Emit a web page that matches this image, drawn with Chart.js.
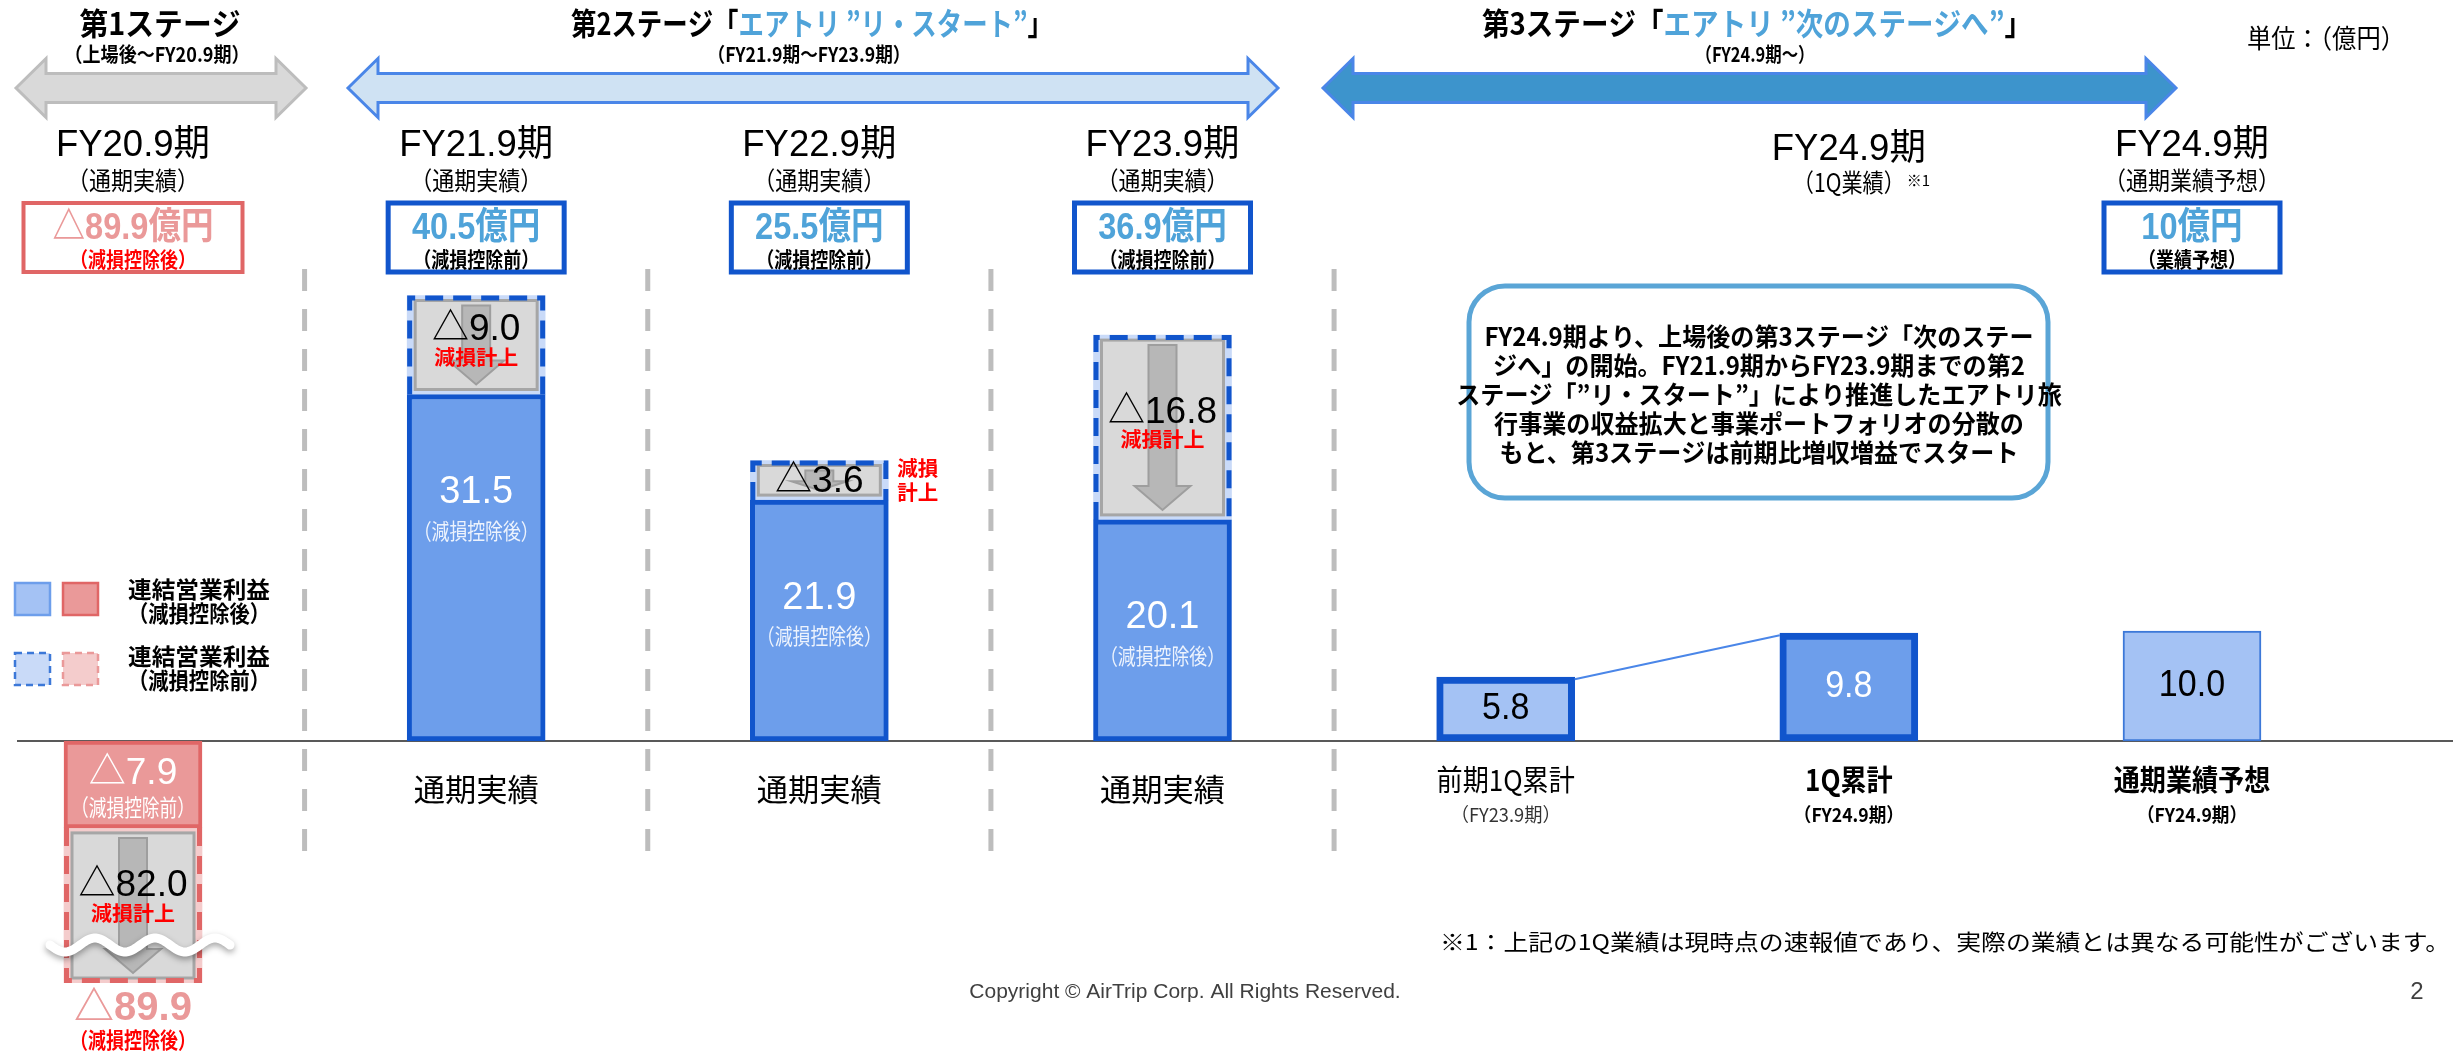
<!DOCTYPE html>
<html lang="ja">
<head>
<meta charset="utf-8">
<title>連結営業利益の推移</title>
<script src="https://cdn.jsdelivr.net/npm/chart.js@4.4.1/dist/chart.umd.min.js"></script>
<style>
  html, body { margin: 0; padding: 0; background: #fff; }
  #wrap { width: 2453px; height: 1052px; }
</style>
</head>
<body>
<div id="wrap"><canvas id="chart" width="2453" height="1052"></canvas></div>
<script>
// values in 億円
const categories = ['FY20.9期', 'FY21.9期', 'FY22.9期', 'FY23.9期', '前期1Q累計', '1Q累計', '通期業績予想'];
const afterImpairment = [-7.9, 31.5, 21.9, 20.1, 5.8, 9.8, 10.0];
const impairment = [-82.0, 9.0, 3.6, 16.8, null, null, null];
const headlineValues = [-89.9, 40.5, 25.5, 36.9, null, null, 10];
const headlineNotes = ['（減損控除後）', '（減損控除前）', '（減損控除前）', '（減損控除前）', null, null, '（業績予想）'];
const periodLabels = ['FY20.9期', 'FY21.9期', 'FY22.9期', 'FY23.9期', '', 'FY24.9期', 'FY24.9期'];
const periodNotes = ['（通期実績）', '（通期実績）', '（通期実績）', '（通期実績）', '', '（1Q業績）', '（通期業績予想）'];
const tickLabels = ['', '通期実績', '通期実績', '通期実績', '前期1Q累計', '1Q累計', '通期業績予想'];
const tickNotes = ['', '', '', '', '（FY23.9期）', '（FY24.9期）', '（FY24.9期）'];
const boxLines = [
  'FY24.9期より、上場後の第3ステージ「次のステー',
  'ジへ」の開始。FY21.9期からFY23.9期までの第2',
  'ステージ「”リ・スタート”」により推進したエアトリ旅',
  '行事業の収益拡大と事業ポートフォリオの分散の',
  'もと、第3ステージは前期比増収増益でスタート'
];

const JP = "'Noto Sans CJK JP', sans-serif";
const EN = "'Liberation Sans', 'Noto Sans CJK JP', sans-serif";
const BLUE_TXT = '#4fa3d9';

function fmt(v) {
  return (v < 0 ? '△' : '') + Math.abs(v).toFixed(1);
}
function fmtHead(v) {
  const a = Math.abs(v);
  return (v < 0 ? '△' : '') + (Number.isInteger(a) ? a : a.toFixed(1)) + '億円';
}

// text helper, width squeezes the text horizontally to that size
function txt(ctx, s, x, y, font, color, opt = {}) {
  ctx.save();
  ctx.font = font;
  ctx.fillStyle = color;
  ctx.textBaseline = 'middle';
  ctx.textAlign = opt.align || 'center';
  const w = ctx.measureText(s).width;
  const sx = opt.width ? opt.width / w : (opt.sx || 1);
  ctx.translate(x, y);
  ctx.scale(sx, 1);
  ctx.fillText(s, 0, 0);
  ctx.restore();
}

function segs(ctx, parts, cx, y, font, width) {
  ctx.save();
  ctx.font = font;
  ctx.textBaseline = 'middle';
  ctx.textAlign = 'left';
  const total = parts.reduce((a, p) => a + ctx.measureText(p[0]).width, 0);
  const sx = width / total;
  ctx.translate(cx - width / 2, y);
  ctx.scale(sx, 1);
  let px = 0;
  parts.forEach(([s, c]) => {
    ctx.fillStyle = c;
    ctx.fillText(s, px, 0);
    px += ctx.measureText(s).width;
  });
  ctx.restore();
}

function dblArrow(ctx, x1, x2, yc, fill, stroke) {
  const shaft = 29, head = 59, hl = 30;
  ctx.save();
  ctx.beginPath();
  ctx.moveTo(x1, yc);
  ctx.lineTo(x1 + hl, yc - head / 2);
  ctx.lineTo(x1 + hl, yc - shaft / 2);
  ctx.lineTo(x2 - hl, yc - shaft / 2);
  ctx.lineTo(x2 - hl, yc - head / 2);
  ctx.lineTo(x2, yc);
  ctx.lineTo(x2 - hl, yc + head / 2);
  ctx.lineTo(x2 - hl, yc + shaft / 2);
  ctx.lineTo(x1 + hl, yc + shaft / 2);
  ctx.lineTo(x1 + hl, yc + head / 2);
  ctx.closePath();
  ctx.fillStyle = fill;
  ctx.fill();
  ctx.lineWidth = 3;
  ctx.strokeStyle = stroke;
  ctx.stroke();
  ctx.restore();
}

function downArrow(ctx, cx, t, b) {
  const hl = Math.min(24, (b - t) * 0.45), sw = 14, hw = 28;
  ctx.save();
  ctx.beginPath();
  ctx.moveTo(cx - sw, t);
  ctx.lineTo(cx + sw, t);
  ctx.lineTo(cx + sw, b - hl);
  ctx.lineTo(cx + hw, b - hl);
  ctx.lineTo(cx, b);
  ctx.lineTo(cx - hw, b - hl);
  ctx.lineTo(cx - sw, b - hl);
  ctx.closePath();
  ctx.fillStyle = '#b7b7b7';
  ctx.fill();
  ctx.lineWidth = 2;
  ctx.strokeStyle = '#9e9e9e';
  ctx.stroke();
  ctx.restore();
}

function roundRect(ctx, x, y, w, h, r) {
  ctx.beginPath();
  ctx.moveTo(x + r, y);
  ctx.arcTo(x + w, y, x + w, y + h, r);
  ctx.arcTo(x + w, y + h, x, y + h, r);
  ctx.arcTo(x, y + h, x, y, r);
  ctx.arcTo(x, y, x + w, y, r);
  ctx.closePath();
}

function legendBox(ctx, x, y, fill, stroke, dashed) {
  ctx.save();
  ctx.fillStyle = fill;
  ctx.fillRect(x, y, 35, 32);
  ctx.strokeStyle = stroke;
  ctx.lineWidth = 2.5;
  if (dashed) ctx.setLineDash([7, 5]);
  ctx.strokeRect(x, y, 35, 32);
  ctx.restore();
}

const decor = {
  id: 'decor',
  beforeDatasetsDraw(chart) {
    const { ctx, scales: { x, y } } = chart;
    const y0 = y.getPixelForValue(0);

    // stage titles and arrows
    txt(ctx, '第1ステージ', 160, 23, 'bold 31px ' + JP, '#000', { width: 161 });
    txt(ctx, '（上場後～FY20.9期）', 157, 54, 'bold 20px ' + JP, '#000', { width: 185 });
    segs(ctx, [['第2ステージ「', '#000'], ['エアトリ ”リ・スタート”', BLUE_TXT], ['」', '#000']], 812, 23, 'bold 31px ' + JP, 482);
    txt(ctx, '（FY21.9期～FY23.9期）', 809, 54, 'bold 20px ' + JP, '#000', { width: 203 });
    segs(ctx, [['第3ステージ「', '#000'], ['エアトリ ”次のステージへ”', BLUE_TXT], ['」', '#000']], 1757, 23, 'bold 31px ' + JP, 550);
    txt(ctx, '（FY24.9期～）', 1755, 54, 'bold 20px ' + JP, '#000', { width: 119 });
    txt(ctx, '単位：（億円）', 2326, 38, '26px ' + JP, '#000', { width: 158 });
    dblArrow(ctx, 16, 306, 88, '#d9d9d9', '#bdbdbd');
    dblArrow(ctx, 348, 1278, 88, '#cfe2f3', '#4a86e8');
    dblArrow(ctx, 1323, 2176, 88, '#3d94cc', '#4a86e8');

    // period headers and headline boxes
    categories.forEach((c, i) => {
      const cx = x.getPixelForValue(i);
      if (periodLabels[i]) {
        txt(ctx, periodLabels[i], cx, i === 5 ? 150 : 146, '37px ' + EN, '#000', { width: 154 });
        const nw = i === 5 ? 112 : periodNotes[i].length * 22;
        txt(ctx, periodNotes[i], cx, i === 5 ? 182 : 180, '25px ' + JP, '#000', { width: nw });
        if (i === 5) txt(ctx, '※1', cx + nw / 2 + 2, 180, '15px ' + JP, '#000', { align: 'left' });
      }
      const hv = headlineValues[i];
      if (hv == null) return;
      const neg = hv < 0;
      const bw = neg ? 219 : 176;
      ctx.save();
      ctx.lineWidth = neg ? 4 : 5;
      ctx.strokeStyle = neg ? '#e06666' : '#1155cc';
      ctx.fillStyle = '#fff';
      ctx.fillRect(cx - bw / 2, 203, bw, 69);
      ctx.strokeRect(cx - bw / 2, 203, bw, 69);
      ctx.restore();
      const hs = fmtHead(hv);
      txt(ctx, hs, cx, 229, 'bold 37px ' + EN, neg ? '#ea9999' : BLUE_TXT, { sx: 0.88 });
      txt(ctx, headlineNotes[i], cx, 259, 'bold 21px ' + JP, neg ? '#ff0000' : '#000', { width: headlineNotes[i].length * 18 });
    });

    // dashed separators between periods
    ctx.save();
    ctx.strokeStyle = '#bdbdbd';
    ctx.lineWidth = 5;
    ctx.setLineDash([22, 18]);
    for (let i = 0; i < 4; i++) {
      const sx = (x.getPixelForValue(i) + x.getPixelForValue(i + 1)) / 2;
      ctx.beginPath();
      ctx.moveTo(sx, 269);
      ctx.lineTo(sx, 852);
      ctx.stroke();
    }
    ctx.restore();

    // zero line
    ctx.save();
    ctx.strokeStyle = '#595959';
    ctx.lineWidth = 2;
    ctx.beginPath();
    ctx.moveTo(17, y0);
    ctx.lineTo(2453, y0);
    ctx.stroke();
    ctx.restore();

    // legend
    legendBox(ctx, 15, 583, '#a4c2f4', '#6d9eeb', false);
    legendBox(ctx, 63, 583, '#ea9999', '#e06666', false);
    legendBox(ctx, 15, 653, '#c9daf8', '#3c78d8', true);
    legendBox(ctx, 63, 653, '#f4cccc', '#ea9999', true);
    txt(ctx, '連結営業利益', 128, 589, 'bold 23px ' + JP, '#000', { align: 'left', width: 142 });
    txt(ctx, '（減損控除後）', 128, 613, 'bold 23px ' + JP, '#000', { align: 'left', width: 142 });
    txt(ctx, '連結営業利益', 128, 656, 'bold 23px ' + JP, '#000', { align: 'left', width: 142 });
    txt(ctx, '（減損控除前）', 128, 680, 'bold 23px ' + JP, '#000', { align: 'left', width: 142 });

    // comment box
    ctx.save();
    roundRect(ctx, 1469, 286, 579, 212, 36);
    ctx.fillStyle = '#fff';
    ctx.fill();
    ctx.lineWidth = 5;
    ctx.strokeStyle = '#5aa5d6';
    ctx.stroke();
    ctx.font = 'bold 25px ' + JP;
    const k = 549 / ctx.measureText(boxLines[0]).width;
    ctx.restore();
    boxLines.forEach((s, i) => txt(ctx, s, 1759, 336 + i * 29, 'bold 25px ' + JP, '#000', { sx: k }));

    // footer
    txt(ctx, '※1：上記の1Q業績は現時点の速報値であり、実際の業績とは異なる可能性がございます。', 2450, 942, '22px ' + JP, '#000', { align: 'right', width: 1010 });
    txt(ctx, 'Copyright © AirTrip Corp. All Rights Reserved.', 1185, 992, '21px ' + EN, '#404040');
    txt(ctx, '2', 2417, 992, '24px ' + EN, '#404040');
  },

  afterDatasetsDraw(chart) {
    const { ctx, chartArea: area } = chart;
    const m0 = chart.getDatasetMeta(0);
    const m1 = chart.getDatasetMeta(1);

    // impairment segments: dashed outline, grey panel, arrow, label
    m1.data.forEach((bar, i) => {
      const v = impairment[i];
      if (v == null) return;
      const p = bar.getProps(['x', 'y', 'base', 'width'], true);
      const neg = v < 0;
      const top = Math.min(p.y, p.base);
      const bot = Math.min(Math.max(p.y, p.base), area.bottom);
      const l = p.x - p.width / 2, r = p.x + p.width / 2;
      const il = l + 8, ir = r - 8, it = top + 5, ib = bot - 5;
      ctx.save();
      ctx.fillStyle = '#d9d9d9';
      ctx.fillRect(il, it, ir - il, ib - it);
      ctx.lineWidth = 3;
      ctx.strokeStyle = '#a6a6a6';
      ctx.strokeRect(il, it, ir - il, ib - it);
      ctx.restore();
      downArrow(ctx, p.x, it + 5, ib - 5);

      ctx.save();
      ctx.setLineDash([18, 10]);
      ctx.lineWidth = 5;
      ctx.strokeStyle = neg ? '#e06666' : '#1155cc';
      ctx.beginPath();
      if (neg) {
        ctx.moveTo(l + 2.5, top);
        ctx.lineTo(l + 2.5, bot - 2.5);
        ctx.lineTo(r - 2.5, bot - 2.5);
        ctx.lineTo(r - 2.5, top);
      } else {
        ctx.moveTo(l + 2.5, bot);
        ctx.lineTo(l + 2.5, top + 2.5);
        ctx.lineTo(r - 2.5, top + 2.5);
        ctx.lineTo(r - 2.5, bot);
      }
      ctx.stroke();
      ctx.restore();

      // an impairment is always a reduction, shown with △
      const lbl = '△' + Math.abs(v).toFixed(1);
      const mid = (top + bot) / 2;
      if (bot - top >= 60) {
        txt(ctx, lbl, p.x, neg ? mid - 20 : mid - 15, '37px ' + EN, '#000');
        txt(ctx, '減損計上', p.x, neg ? mid + 8 : mid + 12, 'bold 20px ' + JP, '#ff0000', { width: 84 });
      } else {
        txt(ctx, lbl, p.x, mid + 1, '37px ' + EN, '#000');
        txt(ctx, '減損', r + 9, top + 8, 'bold 20px ' + JP, '#ff0000', { align: 'left', width: 41 });
        txt(ctx, '計上', r + 9, top + 32, 'bold 20px ' + JP, '#ff0000', { align: 'left', width: 41 });
      }

      if (neg) {
        // break mark on the cut bar
        const wy = area.bottom - 38;
        ctx.save();
        ctx.beginPath();
        for (let t = 0; t <= 180; t += 2) {
          const wx = p.x - 83 + t;
          const yy = wy + 7 * Math.sin((t / 60) * Math.PI * 2);
          if (t === 0) ctx.moveTo(wx, yy); else ctx.lineTo(wx, yy);
        }
        ctx.shadowColor = 'rgba(0,0,0,0.35)';
        ctx.shadowBlur = 6;
        ctx.shadowOffsetY = 3;
        ctx.strokeStyle = '#fff';
        ctx.lineWidth = 9;
        ctx.lineCap = 'round';
        ctx.stroke();
        ctx.restore();
        const total = afterImpairment[i] + v;
        txt(ctx, fmt(total), p.x, area.bottom + 26, 'bold 40px ' + EN, '#ea9999');
        txt(ctx, '（減損控除後）', p.x, area.bottom + 57, 'bold 22px ' + JP, '#ff0000', { width: 126 });
      }
    });

    // values inside the main bars
    m0.data.forEach((bar, i) => {
      const v = afterImpairment[i];
      const p = bar.getProps(['x', 'y', 'base'], true);
      if (impairment[i] != null) {
        const top = Math.min(p.y, p.base);
        if (v < 0) {
          txt(ctx, fmt(v), p.x, top + 33, '37px ' + EN, '#fff');
          txt(ctx, '（減損控除前）', p.x, top + 66, '23px ' + JP, '#fff', { width: 124 });
        } else {
          txt(ctx, fmt(v), p.x, top + 98, '38px ' + EN, '#fff');
          txt(ctx, '（減損控除後）', p.x, top + 136, '22px ' + JP, 'rgba(255,255,255,0.88)', { width: 125 });
        }
      } else {
        txt(ctx, fmt(v), p.x, (p.y + p.base) / 2, '37px ' + EN, i === 5 ? '#fff' : '#000', { sx: 0.92 });
      }
    });

    // thin line from previous 1Q to this 1Q
    const a = m0.data[4].getProps(['x', 'y', 'width'], true);
    const b = m0.data[5].getProps(['x', 'y', 'width'], true);
    ctx.save();
    ctx.strokeStyle = '#4a86e8';
    ctx.lineWidth = 2;
    ctx.beginPath();
    ctx.moveTo(a.x + a.width / 2, a.y + 2);
    ctx.lineTo(b.x - b.width / 2, b.y + 2);
    ctx.stroke();
    ctx.restore();

    // category labels under the zero line
    const y0 = chart.scales.y.getPixelForValue(0);
    tickLabels.forEach((s, i) => {
      if (!s) return;
      const cx = chart.scales.x.getPixelForValue(i);
      const bold = i >= 5 ? 'bold ' : '';
      if (tickNotes[i]) {
        txt(ctx, s, cx, y0 + 39, bold + '29px ' + JP, '#000', { sx: 0.9 });
        txt(ctx, tickNotes[i], cx, y0 + 74, bold + '19px ' + JP, i >= 5 ? '#000' : '#333', { width: 110 });
      } else {
        txt(ctx, s, cx, y0 + 48, '31px ' + JP, '#000', { width: 125 });
      }
    });
  }
};

new Chart(document.getElementById('chart'), {
  type: 'bar',
  data: {
    labels: categories,
    datasets: [
      {
        label: '連結営業利益（減損控除後）',
        data: afterImpairment,
        backgroundColor: ['#ea9999', '#6d9eeb', '#6d9eeb', '#6d9eeb', '#a4c2f4', '#6d9eeb', '#a4c2f4'],
        borderColor: ['#e06666', '#1155cc', '#1155cc', '#1155cc', '#1155cc', '#1155cc', '#3c78d8'],
        borderWidth: [4, 5, 5, 5, 7, 7, 2],
        borderSkipped: false,
        barThickness: 138,
        clip: false
      },
      {
        label: '減損',
        data: impairment,
        backgroundColor: ['#f4cccc', '#c9daf8', '#c9daf8', '#c9daf8'],
        borderWidth: 0,
        barThickness: 138,
        clip: { left: false, right: false, top: false, bottom: 0 }
      }
    ]
  },
  options: {
    responsive: false,
    animation: false,
    layout: { padding: { left: 133, right: 261, top: 191, bottom: 69 } },
    scales: {
      x: { stacked: true, offset: false, display: false },
      y: { stacked: true, min: -22, max: 50, display: false }
    },
    plugins: {
      legend: { display: false },
      tooltip: { enabled: false }
    }
  },
  plugins: [decor]
});
</script>
</body>
</html>
